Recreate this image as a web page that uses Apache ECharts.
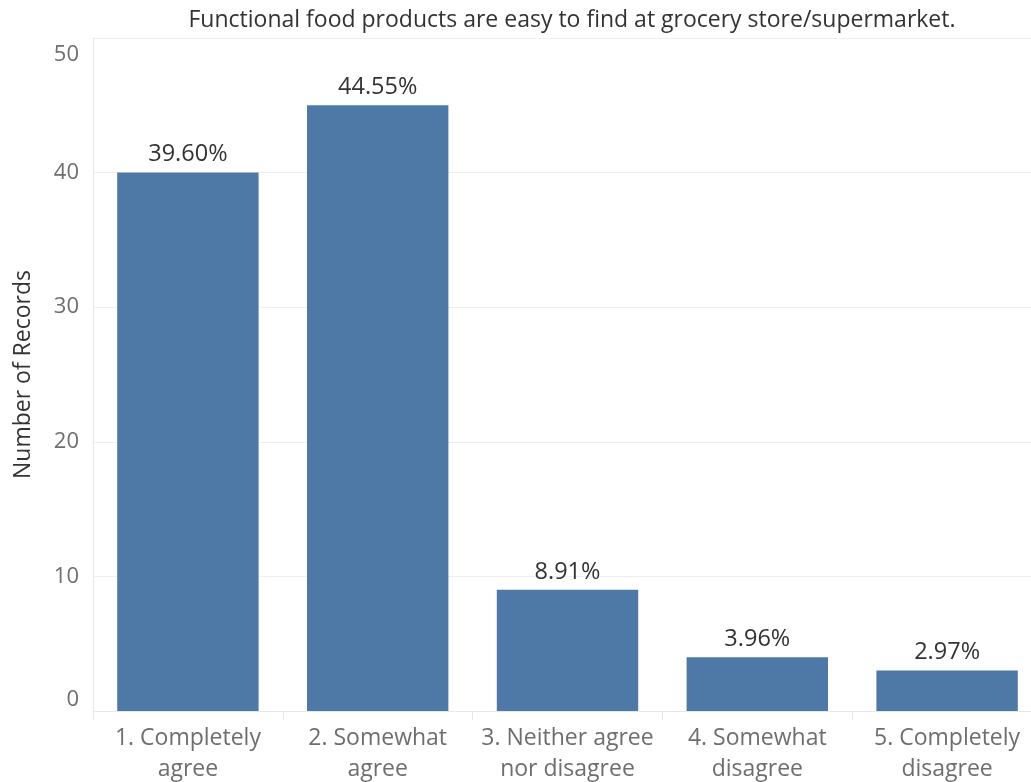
<!DOCTYPE html>
<html>
<head>
<meta charset="utf-8">
<script src="https://cdn.jsdelivr.net/npm/echarts@6/dist/echarts.min.js"></script>
<style>
html,body{margin:0;padding:0;background:#fff;overflow:hidden;width:1031px;height:782px;}
#c{width:1045px;height:782px;}
</style>
</head>
<body>
<div id="c"></div>
<script>
const titleText = "Functional food products are easy to find at grocery store/supermarket.";
const categories = ["1. Completely\nagree", "2. Somewhat\nagree", "3. Neither agree\nnor disagree", "4. Somewhat\ndisagree", "5. Completely\ndisagree"];
const counts = [40, 45, 9, 4, 3];
const yTicks = [0, 10, 20, 30, 40, 50];
const total = counts.reduce((a, b) => a + b, 0);

const chart = echarts.init(document.getElementById('c'), null, {renderer: 'canvas'});
const FONT = '"Open Sans", sans-serif';
const yMax = yTicks[yTicks.length - 1];
chart.setOption({
  animation: false,
  backgroundColor: '#ffffff',
  title: {
    text: titleText,
    left: 567, top: 4, textAlign: 'center',
    textStyle: {fontFamily: FONT, fontSize: 23, fontWeight: 'normal', color: '#333333'}
  },
  grid: {left: 93, width: 949, top: 38, bottom: 71, containLabel: false, outerBoundsMode: 'none'},
  xAxis: {
    type: 'category',
    data: categories,
    axisLine: {show: true, lineStyle: {color: '#e6e6e6', width: 1}},
    axisTick: {show: true, length: 9, lineStyle: {color: '#e6e6e6'}},
    axisLabel: {fontFamily: FONT, fontSize: 23, color: '#6e6e6e', margin: 12, lineHeight: 31, interval: 0}
  },
  yAxis: {
    type: 'value',
    min: yTicks[0], max: yMax, interval: 10,
    name: 'Number of Records',
    nameLocation: 'middle',
    nameGap: 58,
    nameTextStyle: {fontFamily: FONT, fontSize: 23, color: '#333333'},
    axisLine: {show: true, lineStyle: {color: '#e6e6e6'}},
    axisTick: {show: false},
    splitLine: {show: true, lineStyle: {color: '#efefef', width: 1}},
    axisLabel: {fontFamily: FONT, fontSize: 22, color: '#6e6e6e', margin: 14,
      verticalAlignMinLabel: 'bottom', verticalAlignMaxLabel: 'top',
      formatter: v => v === yMax ? '{top|' + v + '}' : String(v),
      rich: {top: {fontFamily: FONT, fontSize: 22, color: '#6e6e6e', padding: [6, 0, 0, 0]}}
    }
  },
  series: [{
    type: 'bar',
    data: counts,
    barWidth: '74.5%',
    itemStyle: {color: '#4e78a5'},
    label: {
      show: true, position: 'top', distance: 6,
      fontFamily: FONT, fontSize: 23.5, color: '#333333',
      formatter: p => (p.value / total * 100).toFixed(2) + '%'
    }
  }]
});
</script>
</body>
</html>
